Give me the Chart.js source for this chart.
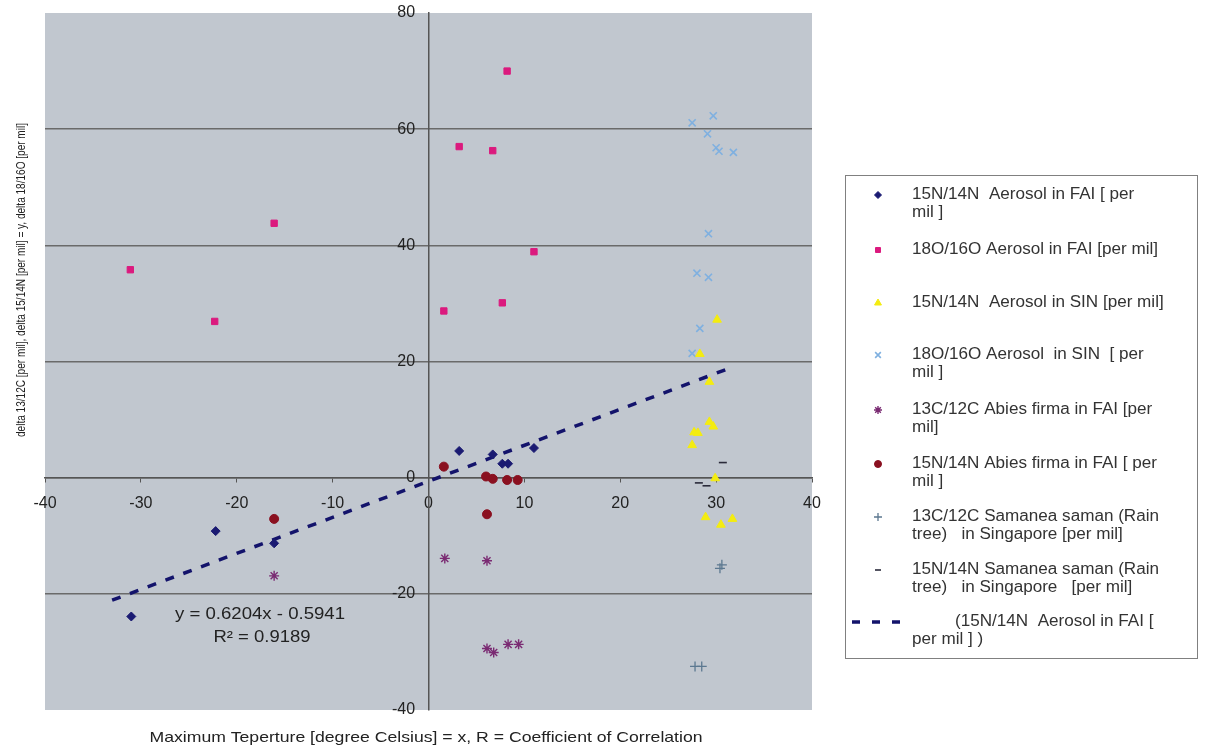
<!DOCTYPE html>
<html>
<head>
<meta charset="utf-8">
<script src="https://cdn.jsdelivr.net/npm/chart.js@4/dist/chart.umd.min.js"></script>
<style>
    html, body { margin: 0; padding: 0; background: #ffffff; }
    #contenedor { width: 1205px; height: 749px; }
</style>
</head>
<body>
<div id="contenedor"><canvas id="grafico" width="1205" height="749"></canvas></div>
<script>
// Datos (x = temperatura máxima, y = delta)
const aerosolFaiN15 = [
    {x: -31.0, y: -23.9}, {x: -22.2, y: -9.2}, {x: -16.1, y: -11.3}, {x: 3.2, y: 4.6},
    {x: 6.7, y: 4.0}, {x: 7.7, y: 2.4}, {x: 8.3, y: 2.4}, {x: 11.0, y: 5.1}
];
const aerosolFaiO18 = [
    {x: -31.1, y: 35.8}, {x: -22.3, y: 26.9}, {x: -16.1, y: 43.8}, {x: 1.6, y: 28.7},
    {x: 3.2, y: 57.0}, {x: 6.7, y: 56.3}, {x: 7.7, y: 30.1}, {x: 8.2, y: 70.0}, {x: 11.0, y: 38.9}
];
const aerosolSinN15 = [
    {x: 30.1, y: 27.2}, {x: 28.3, y: 21.3}, {x: 29.3, y: 16.5}, {x: 29.3, y: 9.6},
    {x: 29.7, y: 8.8}, {x: 27.7, y: 7.8}, {x: 28.1, y: 7.7}, {x: 27.5, y: 5.6},
    {x: 29.9, y: -0.1}, {x: 28.9, y: -6.8}, {x: 30.5, y: -8.1}, {x: 31.7, y: -7.1}
];
const aerosolSinO18 = [
    {x: 29.7, y: 62.3}, {x: 27.5, y: 61.1}, {x: 29.1, y: 59.2}, {x: 30.0, y: 56.8},
    {x: 30.3, y: 56.2}, {x: 31.8, y: 56.0}, {x: 29.2, y: 42.0}, {x: 28.0, y: 35.2},
    {x: 29.2, y: 34.5}, {x: 28.3, y: 25.7}, {x: 27.5, y: 21.4}
];
const abiesC13 = [
    {x: -16.1, y: -16.9}, {x: 1.7, y: -13.9}, {x: 6.1, y: -14.3}, {x: 6.1, y: -29.4},
    {x: 6.8, y: -30.1}, {x: 8.3, y: -28.7}, {x: 9.4, y: -28.7}
];
const abiesN15 = [
    {x: -16.1, y: -7.1}, {x: 1.6, y: 1.9}, {x: 6.0, y: 0.2}, {x: 6.7, y: -0.2},
    {x: 8.2, y: -0.4}, {x: 9.3, y: -0.4}, {x: 6.1, y: -6.3}
];
const samaneaC13 = [ {x: 30.4, y: -15.6}, {x: 30.6, y: -15.0}, {x: 27.8, y: -32.5}, {x: 28.5, y: -32.5} ];
const samaneaN15 = [ {x: 30.7, y: 2.6}, {x: 28.2, y: -0.9}, {x: 29.0, y: -1.4} ];
const tendencia = [ {x: -33.0, y: -21.1}, {x: 31.0, y: 18.6} ];

// Etiquetas de ejes y leyenda
const tituloX = "Maximum Teperture [degree Celsius] = x, R = Coefficient of Correlation";
const tituloY = "delta 13/12C [per mil], delta 15/14N [per mil] = y, delta 18/16O [per mil]";
const ecuacion = ["y = 0.6204x - 0.5941", "R² = 0.9189"];
const leyendaTextos = [
    ["15N/14N  Aerosol in FAI [ per", "mil ]"],
    ["18O/16O Aerosol in FAI [per mil]"],
    ["15N/14N  Aerosol in SIN [per mil]"],
    ["18O/16O Aerosol  in SIN  [ per", "mil ]"],
    ["13C/12C Abies firma in FAI [per", "mil]"],
    ["15N/14N Abies firma in FAI [ per", "mil ]"],
    ["13C/12C Samanea saman (Rain", "tree)   in Singapore [per mil]"],
    ["15N/14N Samanea saman (Rain", "tree)   in Singapore   [per mil]"],
    ["(15N/14N  Aerosol in FAI [", "per mil ] )"]
];

const fuente = '"Liberation Sans", Arial, sans-serif';

function serie(label, data, estilo, color, radio, borde) {
    return {
        label: label,
        data: data,
        pointStyle: estilo,
        backgroundColor: color,
        borderColor: color,
        pointRadius: radio,
        pointBorderWidth: borde,
        showLine: false
    };
}

// Texto escalado en horizontal para ocupar un ancho dado
function textoAjustado(ctx, txt, x, y, ancho, align) {
    const w = ctx.measureText(txt).width;
    const f = ancho ? ancho / w : 1;
    ctx.save();
    ctx.translate(x, y);
    ctx.scale(f, 1);
    ctx.textAlign = align || "center";
    ctx.fillText(txt, 0, 0);
    ctx.restore();
}

// Los ejes centrados no deben empujar el área de trazado
function sinRelleno(scale) {
    scale.paddingTop = 0;
    scale.paddingBottom = 0;
    scale.paddingLeft = 0;
    scale.paddingRight = 0;
}

// Fondo gris del área de trazado
const fondoPlot = {
    id: "fondoPlot",
    beforeDraw(chart) {
        const {ctx, chartArea: a} = chart;
        ctx.save();
        ctx.fillStyle = "#ffffff";
        ctx.fillRect(0, 0, chart.width, chart.height);
        ctx.fillStyle = "#c1c7cf";
        ctx.fillRect(a.left, a.top, a.right - a.left, a.bottom - a.top);
        ctx.restore();
    }
};

// Títulos, ecuación de la tendencia y leyenda
const textosExtra = {
    id: "textosExtra",
    afterDraw(chart) {
        const ctx = chart.ctx;
        ctx.save();
        ctx.fillStyle = "#222222";
        ctx.textBaseline = "middle";

        ctx.font = "15px " + fuente;
        textoAjustado(ctx, tituloX, 426, 738, 553);

        ctx.save();
        ctx.translate(21, 280);
        ctx.rotate(-Math.PI / 2);
        ctx.font = "13px " + fuente;
        textoAjustado(ctx, tituloY, 0, 0, 314);
        ctx.restore();

        ctx.font = "16px " + fuente;
        textoAjustado(ctx, ecuacion[0], 260, 615, 170);
        textoAjustado(ctx, ecuacion[1], 262, 638, 97);

        // Leyenda
        ctx.strokeStyle = "#808080";
        ctx.lineWidth = 1;
        ctx.strokeRect(845.5, 175.5, 352, 483);

        const filasY = [195, 250, 303, 355, 410, 464, 517, 570, 622];
        const marcas = chart.data.datasets;
        ctx.font = "16px " + fuente;
        const f = 246 / ctx.measureText(leyendaTextos[1][0]).width;
        ctx.fillStyle = "#333333";

        leyendaTextos.forEach((lineas, i) => {
            const y = filasY[i];
            lineas.forEach((txt, j) => {
                const x0 = (i === 8 && j === 0) ? 955 : 912;
                ctx.save();
                ctx.translate(x0, y + j * 18);
                ctx.scale(f, 1);
                ctx.textAlign = "left";
                ctx.fillText(txt, 0, 0);
                ctx.restore();
            });

            const ds = marcas[i];
            ctx.save();
            if (i === 8) {
                ctx.strokeStyle = ds.borderColor;
                ctx.lineWidth = 3.5;
                ctx.setLineDash([8, 12]);
                ctx.beginPath();
                ctx.moveTo(852, y);
                ctx.lineTo(904, y);
                ctx.stroke();
            } else {
                ctx.fillStyle = ds.backgroundColor;
                ctx.strokeStyle = ds.borderColor;
                ctx.lineWidth = ds.pointBorderWidth;
                Chart.helpers.drawPoint(ctx, {
                    pointStyle: ds.pointStyle,
                    radius: Math.max(ds.pointRadius - 1, 3),
                    rotation: 0,
                    borderWidth: ds.pointBorderWidth
                }, 878, y);
            }
            ctx.restore();
        });
        ctx.restore();
    }
};

const ctx = document.getElementById("grafico").getContext("2d");
new Chart(ctx, {
    type: "scatter",
    data: {
        datasets: [
            serie("15N/14N Aerosol in FAI", aerosolFaiN15, "rectRot", "#1a1a72", 4.5, 1),
            serie("18O/16O Aerosol in FAI", aerosolFaiO18, "rect", "#db1a7e", 4.5, 1),
            serie("15N/14N Aerosol in SIN", aerosolSinN15, "triangle", "#f4ec10", 5, 1),
            serie("18O/16O Aerosol in SIN", aerosolSinO18, "crossRot", "#7fb0e0", 5, 1.6),
            serie("13C/12C Abies firma in FAI", abiesC13, "star", "#7a2a72", 5, 1.4),
            serie("15N/14N Abies firma in FAI", abiesN15, "circle", "#8a1020", 4.5, 1),
            serie("13C/12C Samanea saman", samaneaC13, "cross", "#5c7890", 5, 1.3),
            serie("15N/14N Samanea saman", samaneaN15, "line", "#2a2a3a", 4, 1.6),
            {
                label: "Linear (15N/14N Aerosol in FAI)",
                type: "line",
                data: tendencia,
                showLine: true,
                pointRadius: 0,
                borderColor: "#13136b",
                backgroundColor: "#13136b",
                borderWidth: 3.5,
                borderDash: [9, 10],
                borderCapStyle: "butt",
                fill: false
            }
        ]
    },
    options: {
        responsive: false,
        devicePixelRatio: 1,
        animation: false,
        layout: { padding: { left: 45, top: 13, right: 393, bottom: 39 } },
        plugins: {
            legend: { display: false },
            tooltip: { enabled: false }
        },
        scales: {
            x: {
                type: "linear",
                min: -40,
                max: 40,
                position: { y: 0 },
                afterFit: sinRelleno,
                ticks: { stepSize: 10, color: "#222222", padding: 12, font: { size: 16, family: fuente } },
                grid: { drawOnChartArea: false, drawTicks: true, tickLength: 4, color: "#555555" },
                border: { display: true, color: "#555555", width: 1.5 }
            },
            y: {
                type: "linear",
                min: -40,
                max: 80,
                position: { x: 0 },
                afterFit: sinRelleno,
                ticks: {
                    stepSize: 20,
                    color: "#222222",
                    font: { size: 16, family: fuente },
                    // separación respecto al eje vertical centrado
                    callback: (v) => v + "   "
                },
                grid: {
                    drawTicks: false,
                    lineWidth: 1.5,
                    color: (c) => (c.tick && (c.tick.value === 80 || c.tick.value === -40)) ? "rgba(0,0,0,0)" : "#6a6a6a"
                },
                border: { display: true, color: "#555555", width: 1.5 }
            }
        }
    },
    plugins: [fondoPlot, textosExtra]
});
</script>
</body>
</html>
